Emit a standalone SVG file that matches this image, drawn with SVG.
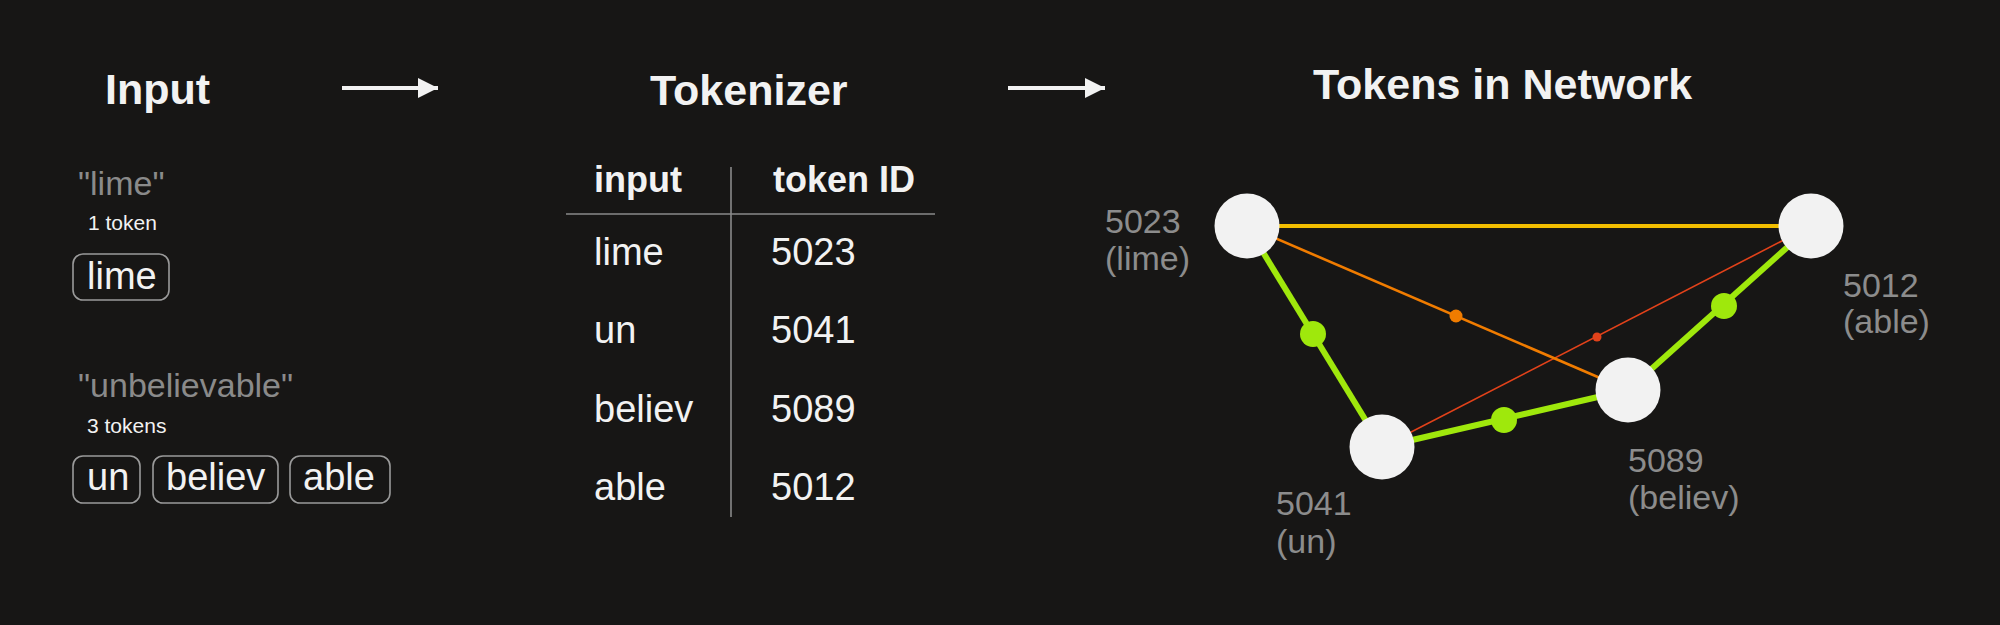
<svg xmlns="http://www.w3.org/2000/svg" width="2000" height="625" viewBox="0 0 2000 625">
<defs>
<style>
text{font-family:"Liberation Sans",Arial,sans-serif;}
.title{font-size:43px;font-weight:bold;fill:#f2f2f2;}
.quote{font-size:34px;fill:#8a8a8a;}
.count{font-size:21px;fill:#f2f2f2;}
.tok{font-size:38px;fill:#f2f2f2;}
.tokbox{fill:none;stroke:#9a9a9a;stroke-width:1.6;}
.th{font-size:36px;font-weight:bold;fill:#f2f2f2;}
.td{font-size:38px;fill:#f2f2f2;}
.rule{stroke:#8a8a8a;stroke-width:1.6;}
.lbl{font-size:34px;fill:#8c8c8c;}
.node{fill:#f2f2f2;}
.arrow{stroke:#f2f2f2;stroke-width:4;fill:none;}
.green{stroke:#9fe80c;stroke-width:6;}
.gdot{fill:#9fe80c;}
</style>
<marker id="ah" markerWidth="22" markerHeight="22" refX="20" refY="10" orient="auto" markerUnits="userSpaceOnUse">
<path d="M0,0 L20,10 L0,20 Z" fill="#f2f2f2"/>
</marker>
</defs>
<rect width="2000" height="625" fill="#171615"/>

<g id="col-input">
<text class="title" x="105" y="104">Input</text>
<text class="quote" x="78" y="195">"lime"</text>
<text class="count" x="88" y="230">1 token</text>
<rect class="tokbox" x="73" y="254" width="96" height="46" rx="10"/>
<text class="tok" x="87" y="289">lime</text>
<text class="quote" x="78" y="397">"unbelievable"</text>
<text class="count" x="87" y="433">3 tokens</text>
<rect class="tokbox" x="73" y="456" width="67" height="47" rx="10"/>
<text class="tok" x="87" y="490">un</text>
<rect class="tokbox" x="153" y="456" width="125" height="47" rx="10"/>
<text class="tok" x="166" y="490">believ</text>
<rect class="tokbox" x="290" y="456" width="100" height="47" rx="10"/>
<text class="tok" x="303" y="490">able</text>
</g>

<g id="col-tokenizer">
<text class="title" x="650" y="105">Tokenizer</text>
<text class="th" x="594" y="192">input</text>
<text class="th" x="773" y="192">token ID</text>
<line class="rule" x1="566" y1="214" x2="935" y2="214"/>
<line class="rule" x1="731" y1="167" x2="731" y2="517"/>
<text class="td" x="594" y="265">lime</text>
<text class="td" x="771" y="265">5023</text>
<text class="td" x="594" y="343">un</text>
<text class="td" x="771" y="343">5041</text>
<text class="td" x="594" y="422">believ</text>
<text class="td" x="771" y="422">5089</text>
<text class="td" x="594" y="500">able</text>
<text class="td" x="771" y="500">5012</text>
</g>

<text id="title-network" class="title" x="1313" y="99">Tokens in Network</text>

<g id="connectors">
<line class="arrow" x1="342" y1="88" x2="438" y2="88" marker-end="url(#ah)"/>
<line class="arrow" x1="1008" y1="88" x2="1105" y2="88" marker-end="url(#ah)"/>
<line x1="1247" y1="226" x2="1811" y2="226" stroke="#f2be00" stroke-width="4"/>
<line x1="1382" y1="447" x2="1811" y2="226" stroke="#e2421a" stroke-width="1.6"/>
<circle cx="1597" cy="337" r="4.5" fill="#e2421a"/>
<line x1="1247" y1="226" x2="1628" y2="390" stroke="#f07c00" stroke-width="2.6"/>
<circle cx="1456" cy="316" r="6.5" fill="#f07c00"/>
<line class="green" x1="1247" y1="226" x2="1382" y2="447"/>
<circle class="gdot" cx="1313" cy="334" r="13"/>
<line class="green" x1="1382" y1="447" x2="1628" y2="390"/>
<circle class="gdot" cx="1504" cy="420" r="13"/>
<line class="green" x1="1628" y1="390" x2="1811" y2="226"/>
<circle class="gdot" cx="1724" cy="306" r="13"/>
</g>

<g id="node-5023">
<circle class="node" cx="1247" cy="226" r="32.5"/>
<text class="lbl" x="1105" y="233">5023</text>
<text class="lbl" x="1105" y="270">(lime)</text>
</g>
<g id="node-5012">
<circle class="node" cx="1811" cy="226" r="32.5"/>
<text class="lbl" x="1843" y="297">5012</text>
<text class="lbl" x="1843" y="333">(able)</text>
</g>
<g id="node-5041">
<circle class="node" cx="1382" cy="447" r="32.5"/>
<text class="lbl" x="1276" y="515">5041</text>
<text class="lbl" x="1276" y="553">(un)</text>
</g>
<g id="node-5089">
<circle class="node" cx="1628" cy="390" r="32.5"/>
<text class="lbl" x="1628" y="472">5089</text>
<text class="lbl" x="1628" y="509">(believ)</text>
</g>
</svg>
